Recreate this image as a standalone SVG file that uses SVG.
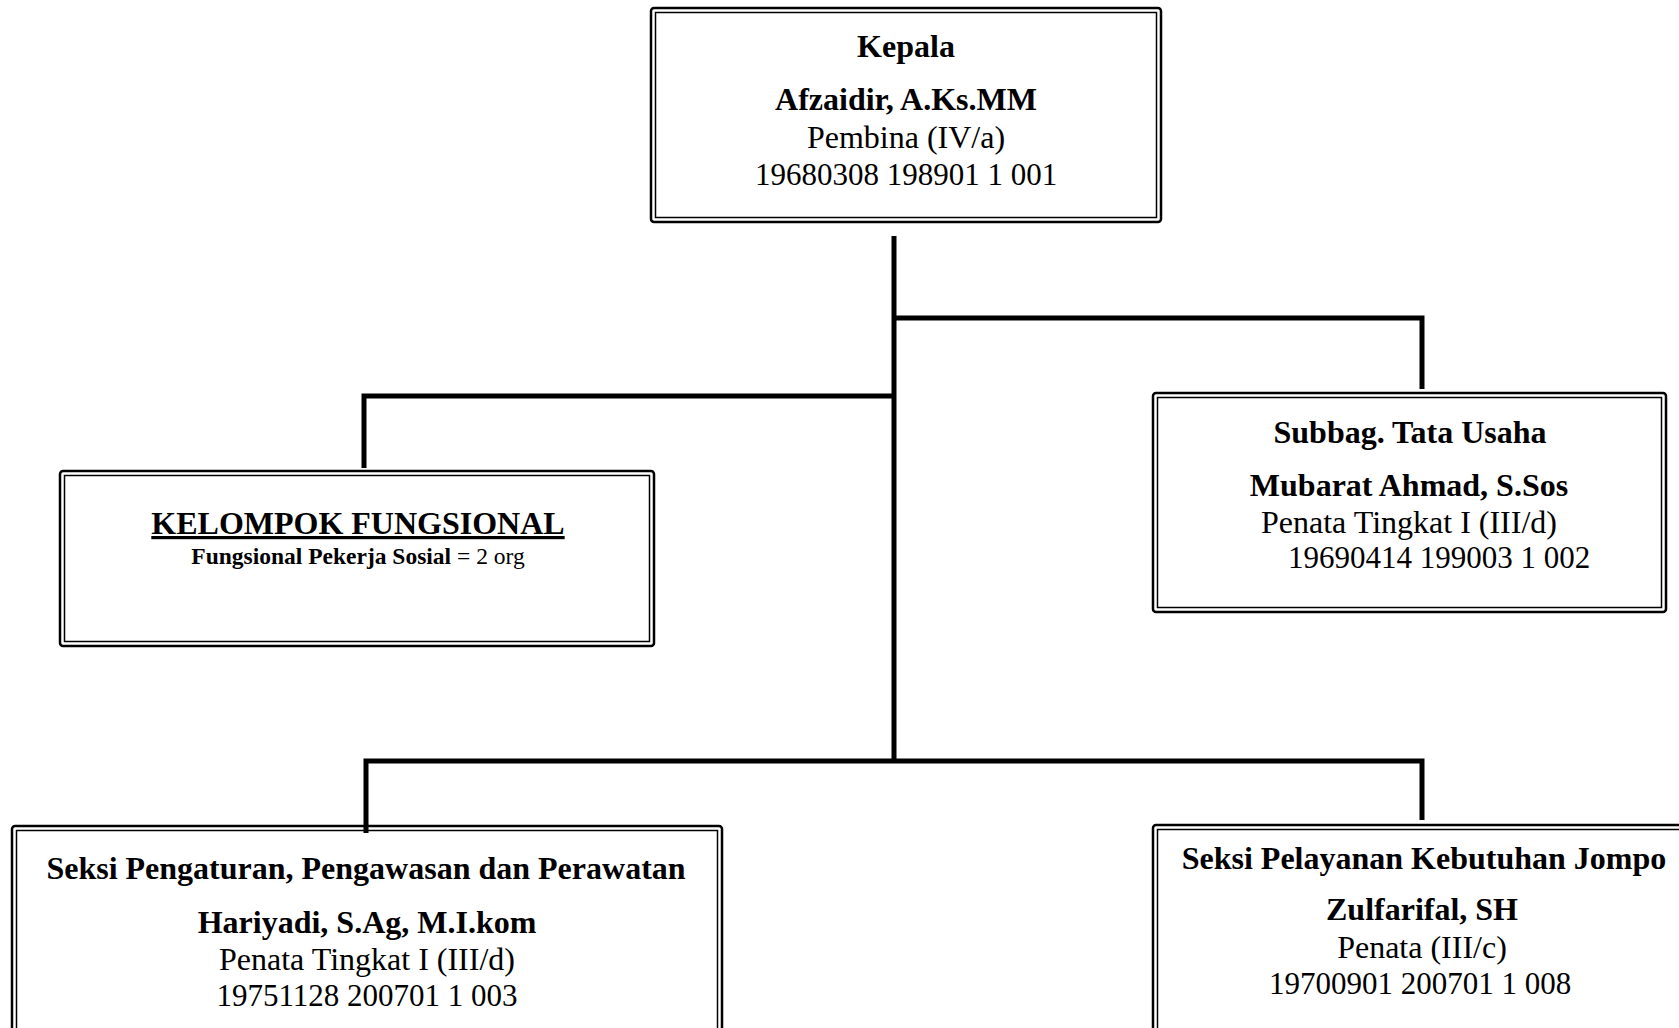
<svg xmlns="http://www.w3.org/2000/svg" width="1679" height="1028" viewBox="0 0 1679 1028">
<style>
.outer{fill:none;stroke:#000;stroke-width:2.5}
.inner{fill:none;stroke:#000;stroke-width:1.5}
.conn{fill:none;stroke:#000;stroke-width:5;stroke-linejoin:miter;stroke-linecap:butt}
text{font-family:"Liberation Serif","Times New Roman",serif;fill:#000;text-anchor:middle;font-size:32px}
.b{font-weight:bold}
.n{font-size:31px}
</style>
<rect width="1679" height="1028" fill="#fff"/>
<g id="connectors">
<path class="conn" d="M894 236 V763"/>
<path class="conn" d="M894 318 H1422 V389"/>
<path class="conn" d="M894 396 H364 V468"/>
<path class="conn" d="M366 833 V761 H1422 V820"/>
</g>
<g id="kepala">
<rect class="outer" x="651" y="8" width="510" height="214" rx="3"/>
<rect class="inner" x="655.5" y="12.5" width="501" height="205"/>
<text class="b" x="906" y="57">Kepala</text>
<text class="b" x="906" y="110">Afzaidir, A.Ks.MM</text>
<text x="906" y="148">Pembina (IV/a)</text>
<text class="n" x="906" y="185">19680308 198901 1 001</text>
</g>
<g id="kelompok">
<rect class="outer" x="60" y="471" width="594" height="175" rx="3"/>
<rect class="inner" x="64.5" y="475.5" width="585" height="166"/>
<text class="b" x="358" y="534" text-decoration="underline">KELOMPOK FUNGSIONAL</text>
<text x="358" y="564" style="font-size:23.5px"><tspan class="b">Fungsional Pekerja Sosial</tspan> = 2 org</text>
</g>
<g id="subbag">
<rect class="outer" x="1153" y="393" width="513" height="219" rx="3"/>
<rect class="inner" x="1157.5" y="397.5" width="504" height="210"/>
<text class="b" x="1410" y="443">Subbag. Tata Usaha</text>
<text class="b" x="1409" y="496">Mubarat Ahmad, S.Sos</text>
<text x="1409" y="533">Penata Tingkat I (III/d)</text>
<text class="n" x="1439" y="568">19690414 199003 1 002</text>
</g>
<g id="seksi-pengaturan">
<rect class="outer" x="12" y="826" width="710" height="220" rx="3"/>
<rect class="inner" x="16.5" y="830.5" width="701" height="211"/>
<text class="b" x="366" y="879">Seksi Pengaturan, Pengawasan dan Perawatan</text>
<text class="b" x="367" y="933">Hariyadi, S.Ag, M.I.kom</text>
<text x="367" y="970">Penata Tingkat I (III/d)</text>
<text class="n" x="367" y="1006">19751128 200701 1 003</text>
</g>
<g id="seksi-pelayanan">
<rect class="outer" x="1153" y="825" width="560" height="220" rx="3"/>
<rect class="inner" x="1157.5" y="829.5" width="551" height="211"/>
<text class="b" x="1424" y="869">Seksi Pelayanan Kebutuhan Jompo</text>
<text class="b" x="1422" y="920">Zulfarifal, SH</text>
<text x="1422" y="958">Penata (III/c)</text>
<text class="n" x="1420" y="994">19700901 200701 1 008</text>
</g>
</svg>
